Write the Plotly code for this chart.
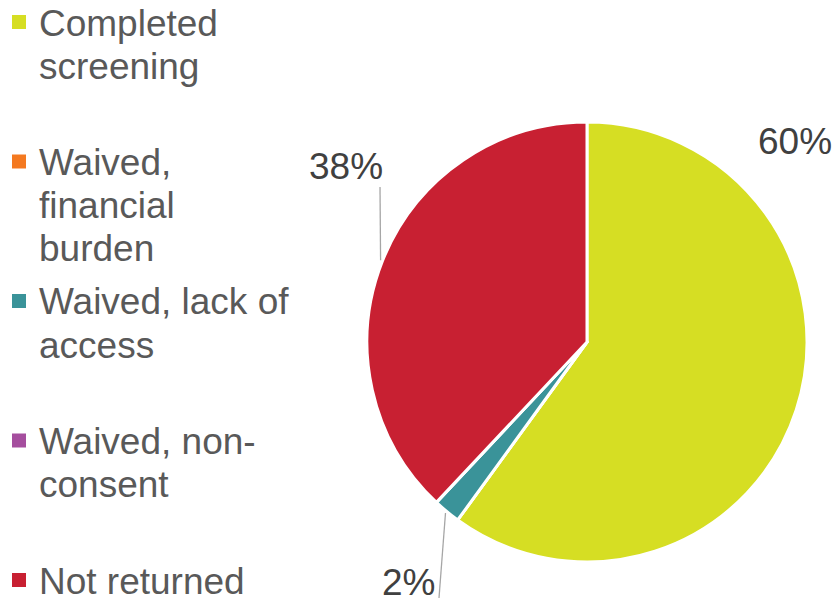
import math
import plotly.graph_objects as go

# Screening outcome shares (percent)
categories = ["Completed screening", "Waived, financial burden",
              "Waived, lack of access", "Waived, non-consent", "Not returned"]
# wrapped lines as shown in the legend
legend_lines = [["Completed", "screening"],
                ["Waived,", "financial", "burden"],
                ["Waived, lack of", "access"],
                ["Waived, non-", "consent"],
                ["Not returned"]]
values = [60, 0, 2, 0, 38]
colors = ["#D6DE23", "#F47920", "#3A9399", "#A54E9E", "#C82032"]
label_text = ["60%", None, "2%", None, "38%"]

W, H = 836, 607
FONT = "Liberation Sans, Arial, sans-serif"
# pie placement in pixels
pie_x0, pie_x1 = 367, 807
pie_y0, pie_y1 = 122, 562
cx, cy = (pie_x0 + pie_x1) / 2, (pie_y0 + pie_y1) / 2
R = (pie_x1 - pie_x0) / 2


def px(x, y):
    return x / W, 1 - y / H


fig = go.Figure(go.Pie(
    labels=categories,
    values=values,
    marker=dict(colors=colors, line=dict(color="white", width=3)),
    sort=False,
    direction="clockwise",
    rotation=0,
    textinfo="none",
    hoverinfo="label+percent",
    showlegend=False,
    domain=dict(x=[pie_x0 / W, pie_x1 / W], y=[1 - pie_y1 / H, 1 - pie_y0 / H]),
))

# data labels with leader lines from the slice edge at the slice mid-angle
label_pos = {0: (795, 141), 2: (408, 582), 4: (346, 167)}
leader_end = {2: (439, 598), 4: (380, 187)}

total = sum(values)
start = 0.0
for i, v in enumerate(values):
    frac = v / total
    mid = (start + frac / 2) * 2 * math.pi
    start += frac
    if not label_text[i]:
        continue
    ex = cx + (R + 2) * math.sin(mid)
    ey = cy - (R + 2) * math.cos(mid)
    tx, ty = label_pos[i]
    ax, ay = px(tx, ty)
    fig.add_annotation(x=ax, y=ay, xref="paper", yref="paper", text=label_text[i],
                       showarrow=False, font=dict(size=37, color="#404040", family=FONT),
                       xanchor="center", yanchor="middle")
    if i in leader_end:
        lx, ly = leader_end[i]
        sx, sy = px(ex, ey)
        x2, y2 = px(lx, ly)
        fig.add_shape(type="line", xref="paper", yref="paper", x0=sx, y0=sy, x1=x2, y1=y2,
                      line=dict(color="#A6A6A6", width=1.3))

# legend: evenly spaced entries, square swatch beside the first line
entry_top, entry_step, line_step = 22, 139.5, 43
sw = 14
for k, lines in enumerate(legend_lines):
    y0 = entry_top + entry_step * k
    x0a, y0a = px(12, y0 - sw / 2)
    x1a, y1a = px(12 + sw, y0 + sw / 2)
    fig.add_shape(type="rect", xref="paper", yref="paper", x0=x0a, x1=x1a, y0=y0a, y1=y1a,
                  fillcolor=colors[k], line=dict(width=0))
    for j, t in enumerate(lines):
        ax, ay = px(37, y0 + line_step * j + 1)
        fig.add_annotation(x=ax, y=ay, xref="paper", yref="paper", text=t,
                           showarrow=False, font=dict(size=37, color="#595959", family=FONT),
                           xanchor="left", yanchor="middle")

fig.update_layout(
    width=W, height=H,
    margin=dict(l=0, r=0, t=0, b=0),
    paper_bgcolor="white",
    font=dict(family=FONT, color="#595959"),
    showlegend=False,
)

fig.write_html("out.html")
